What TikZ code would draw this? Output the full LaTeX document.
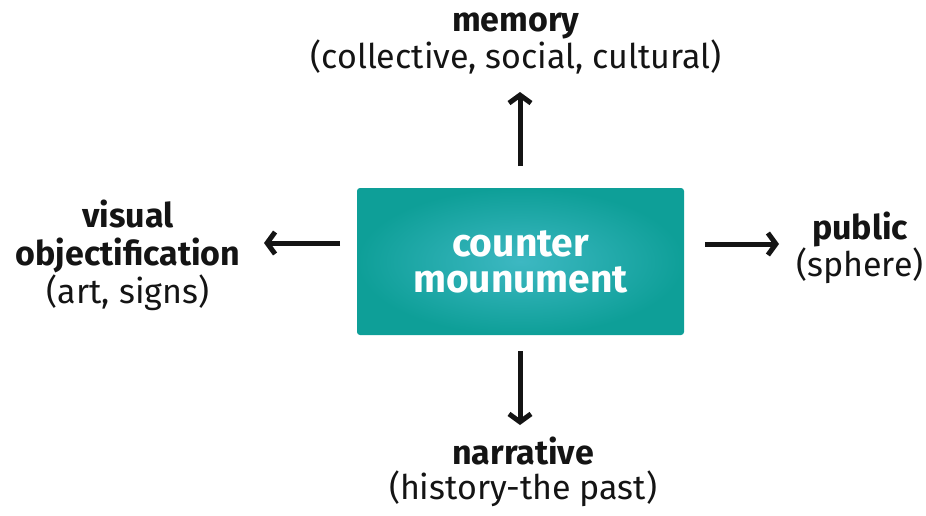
\documentclass[tikz,border=0pt]{standalone}
\usepackage{fontspec}
\setmainfont{Fira Sans}
\usetikzlibrary{arrows.meta}
\definecolor{teal1}{HTML}{0E9F98}
\definecolor{teal2}{HTML}{3DB8C2}
\definecolor{ink}{HTML}{141414}
\tikzset{
  lbl/.style={text=ink, align=center, inner sep=0pt},
  arr/.style={draw=ink, line width=5pt, -{Straight Barb[length=8pt,width=22pt]}},
  box/.style={rounded corners=3pt, inner color=teal2, outer color=teal1, minimum width=327pt, minimum height=147pt, text=white, align=center, inner sep=0pt}
}
\begin{document}
\begin{tikzpicture}[x=1pt,y=-1pt]
\useasboundingbox (0,0) rectangle (926,515);
\node[box, font=\fontsize{39}{36}\selectfont\bfseries] (c) at (520.5,261.5) {counter\\mounument};
\node[lbl, font=\fontsize{34}{33}\selectfont] (mem) at (516,43.5) {\textbf{memory}\\(collective, social, cultural)};
\node[lbl, font=\fontsize{34}{38}\selectfont] (vis) at (128,255.5) {\textbf{visual}\\\textbf{objectification}\\(art, signs)};
\node[lbl, font=\fontsize{34}{35}\selectfont] (pub) at (860,248) {\textbf{public}\\(sphere)};
\node[lbl, font=\fontsize{34}{35}\selectfont] (nar) at (523,471.5) {\textbf{narrative}\\(history-the past)};
\coordinate (u0) at (520,166);
\coordinate (u1) at (520,92);
\coordinate (l0) at (340,243);
\coordinate (l1) at (264,243);
\coordinate (r0) at (705,244);
\coordinate (r1) at (779,244);
\coordinate (d0) at (520,351);
\coordinate (d1) at (520,425);
\draw[arr] (u0) -- (u1);
\draw[arr] (l0) -- (l1);
\draw[arr] (r0) -- (r1);
\draw[arr] (d0) -- (d1);
\end{tikzpicture}
\end{document}
